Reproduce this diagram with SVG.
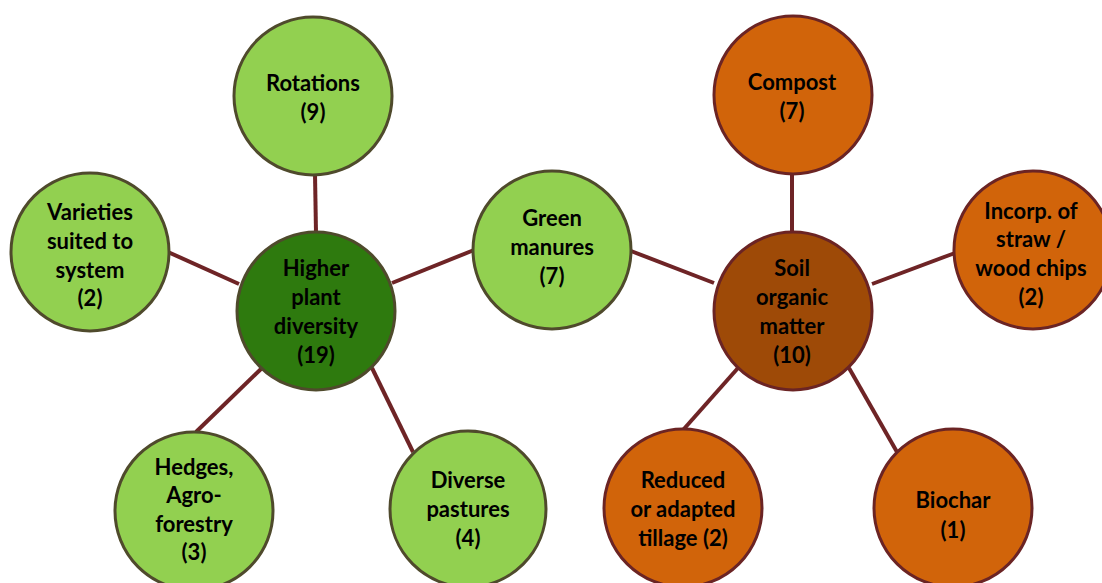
<svg xmlns="http://www.w3.org/2000/svg" width="1102" height="583" viewBox="0 0 1102 583">
<style>
.bg{fill:#ffffff}
.lg{fill:#92d050;stroke:#4f4a2c;stroke-width:3}
.dg{fill:#2e7a0e;stroke:#4f4a2c;stroke-width:3}
.or{fill:#d1640a;stroke:#6b2424;stroke-width:3}
.br{fill:#9e4a07;stroke:#6b2424;stroke-width:3}
.c line{stroke:#6e2426;stroke-width:4;stroke-linecap:butt}
text{font-family:Lato,"Open Sans","Liberation Sans",sans-serif;font-weight:bold;font-size:22px;fill:#000;text-anchor:middle}
</style>
<rect class="bg" width="1102" height="583"/>
<g id="connectors" class="c">
<line x1="315" y1="174" x2="316" y2="233"/>
<line x1="168" y1="252" x2="239" y2="284"/>
<line x1="474" y1="250" x2="392" y2="283"/>
<line x1="196" y1="432" x2="262" y2="368"/>
<line x1="413" y1="452" x2="372" y2="368"/>
<line x1="631" y1="251" x2="714" y2="283"/>
<line x1="792" y1="173" x2="792" y2="233"/>
<line x1="955" y1="253" x2="872" y2="284"/>
<line x1="683" y1="430" x2="738" y2="368"/>
<line x1="897" y1="452" x2="849" y2="368"/>
</g>
<g id="rotations"><circle class="lg" cx="313" cy="96" r="79"/><text x="313" y="91">Rotations</text><text x="313" y="120">(9)</text></g>
<g id="varieties"><circle class="lg" cx="90" cy="252" r="79"/><text x="90" y="220">Varieties</text><text x="90" y="249">suited to</text><text x="90" y="278">system</text><text x="90" y="306">(2)</text></g>
<g id="higher"><circle class="dg" cx="316" cy="311" r="79"/><text x="316" y="276">Higher</text><text x="316" y="305">plant</text><text x="316" y="334">diversity</text><text x="316" y="363">(19)</text></g>
<g id="hedges"><circle class="lg" cx="194" cy="511" r="79"/><text x="194" y="475">Hedges,</text><text x="194" y="503">Agro-</text><text x="194" y="532">forestry</text><text x="194" y="560">(3)</text></g>
<g id="pastures"><circle class="lg" cx="468" cy="509" r="78"/><text x="468" y="488">Diverse</text><text x="468" y="517">pastures</text><text x="468" y="546">(4)</text></g>
<g id="green"><circle class="lg" cx="552" cy="250" r="79"/><text x="552" y="226">Green</text><text x="552" y="255">manures</text><text x="552" y="284">(7)</text></g>
<g id="compost"><circle class="or" cx="793" cy="95" r="79"/><text x="792" y="90">Compost</text><text x="792" y="119">(7)</text></g>
<g id="soil"><circle class="br" cx="793" cy="311" r="79"/><text x="792" y="276">Soil</text><text x="792" y="305">organic</text><text x="792" y="334">matter</text><text x="792" y="363">(10)</text></g>
<g id="incorp"><circle class="or" cx="1033" cy="250" r="79"/><text x="1031" y="219">Incorp. of</text><text x="1031" y="247">straw /</text><text x="1031" y="276">wood chips</text><text x="1031" y="305">(2)</text></g>
<g id="reduced"><circle class="or" cx="683" cy="508" r="79"/><text x="683" y="488">Reduced</text><text x="683" y="517">or adapted</text><text x="683" y="546">tillage (2)</text></g>
<g id="biochar"><circle class="or" cx="953" cy="508" r="79"/><text x="953" y="508">Biochar</text><text x="953" y="538">(1)</text></g>
</svg>
